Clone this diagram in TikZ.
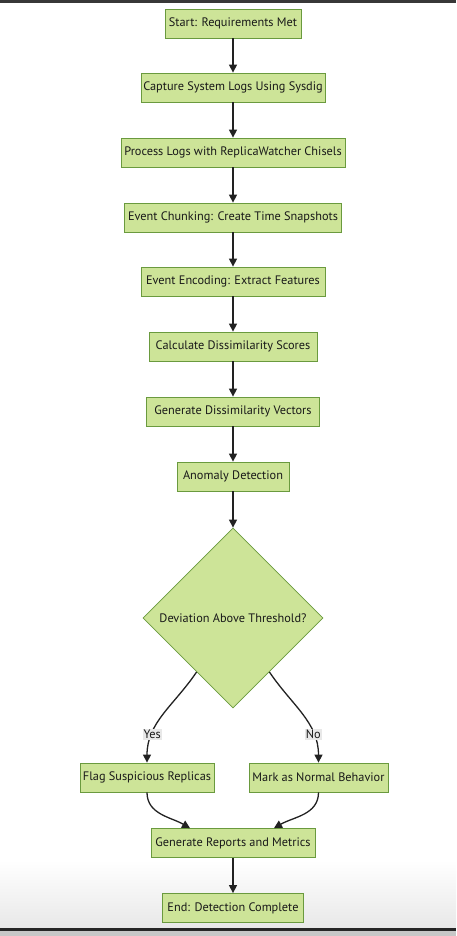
\documentclass[tikz,border=0pt]{standalone}
\usepackage{fontspec}
\setmainfont{PT Sans}
\usetikzlibrary{arrows.meta,shapes.geometric}
\definecolor{stepfill}{HTML}{CDE498}
\definecolor{stepline}{HTML}{6A9A3E}
\definecolor{flowline}{HTML}{222222}
\definecolor{answerbg}{HTML}{E8E8E8}
\tikzset{
  stepbox/.style={draw=stepline, fill=stepfill, line width=0.8pt, minimum height=29pt,
    inner xsep=0pt, text=black!90, font=\fontsize{12.3}{14}\selectfont},
  flow/.style={draw=flowline, line width=1.3pt, -{Triangle[length=8pt,width=8pt]}},
  answer/.style={fill=answerbg, inner sep=1pt, text=black!90, font=\fontsize{12.3}{14}\selectfont}
}
\begin{document}
\begin{tikzpicture}[x=1pt,y=-1pt]
  \useasboundingbox (0,0) rectangle (456,936);
  % screenshot frame
  \fill[white] (0,0) rectangle (456,936);
  \fill[black!78] (0,0) rectangle (456,3);
  \shade[top color=white, bottom color=black!9] (0,860) rectangle (456,928);
  \fill[black!85] (0,928) rectangle (456,931);
  \fill[black!22] (0,931) rectangle (456,936);

  \def\drawStep#1#2#3#4{\node[stepbox, minimum width=#2pt] (#1) at (233,#3) {#4};}
  \drawStep{start}{136}{23.5}{Start: Requirements Met}
  \drawStep{capture}{184}{87.5}{Capture System Logs Using Sysdig}
  \drawStep{process}{224}{152.5}{Process Logs with ReplicaWatcher Chisels}
  \drawStep{chunking}{217}{217.5}{Event Chunking: Create Time Snapshots}
  \drawStep{encoding}{184}{281.5}{Event Encoding: Extract Features}
  \drawStep{scores}{168}{346.5}{Calculate Dissimilarity Scores}
  \drawStep{vectors}{173}{411.5}{Generate Dissimilarity Vectors}
  \drawStep{anomaly}{112}{476.5}{Anomaly Detection}

  \node[stepbox, diamond, minimum width=180pt, minimum height=180pt] (threshold) at (233,618)
    {Deviation Above Threshold?};

  \node[stepbox, minimum width=134pt] (flag) at (147,777.5) {Flag Suspicious Replicas};
  \node[stepbox, minimum width=139pt] (normal) at (318.5,777.5) {Mark as Normal Behavior};
  \drawStep{report}{164}{843}{Generate Reports and Metrics}
  \drawStep{finish}{141}{908}{End: Detection Complete}

  \foreach \a/\b in {start/capture, capture/process, process/chunking, chunking/encoding,
    encoding/scores, scores/vectors, vectors/anomaly, anomaly/threshold, report/finish}{
    \draw[flow] (\a.south) -- (\b.north);
  }

  \draw[flow] (threshold.236) to[out=236, in=90] node[answer, pos=0.73] {Yes} (flag.north);
  \draw[flow] (threshold.304) to[out=304, in=90] node[answer, pos=0.73] {No} (normal.north);
  \draw[flow] (flag.south) to[out=-90, in=150] ([xshift=-43pt]report.north);
  \draw[flow] (normal.south) to[out=-90, in=30] ([xshift=41pt]report.north);
\end{tikzpicture}
\end{document}
